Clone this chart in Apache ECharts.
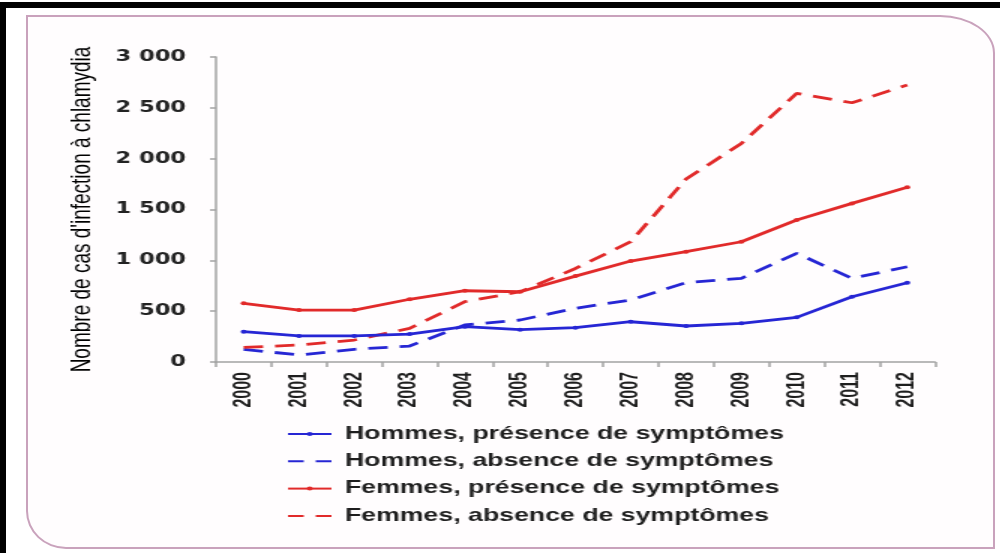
<!DOCTYPE html>
<html>
<head>
<meta charset="utf-8">
<script src="https://cdn.jsdelivr.net/npm/echarts@6/dist/echarts.min.js"></script>
<style>
  html, body { margin: 0; padding: 0; background: #fff; }
  #page { position: relative; width: 1000px; height: 553px; overflow: hidden; background: #fff; }
  /* bords noirs haut / gauche de la capture */
  #page .blk-top { position: absolute; left: 0; top: 2px; width: 1000px; height: 6px; background: #000; }
  #page .blk-left { position: absolute; left: 0; top: 2px; width: 6px; height: 551px; background: #000; }
  /* cadre rose arrondi */
  #frame {
    position: absolute; left: 26px; top: 15px; width: 965px; height: 530px;
    border: 2px solid #c9a2bc; border-radius: 0 55px 0 40px / 0 38px 0 38px;
    background: #fffdfe;
  }
  /* l'image source est étirée horizontalement : on dessine sur 667px puis on étire */
  #chart { position: absolute; left: 0; top: 0; width: 667px; height: 553px;
    transform: scaleX(1.5); transform-origin: 0 0; }
</style>
</head>
<body>
<div id="page">
  <div class="blk-top"></div>
  <div class="blk-left"></div>
  <div id="frame"></div>
  <div id="chart"></div>
</div>
<script>
// années et valeurs
const years = ['2000', '2001', '2002', '2003', '2004', '2005', '2006', '2007', '2008', '2009', '2010', '2011', '2012']
const hommesPresence = [298, 256, 256, 275, 347, 318, 338, 396, 354, 380, 439, 642, 780]
const hommesAbsence = [125, 69, 125, 157, 364, 413, 528, 610, 780, 823, 1069, 823, 937]
const femmesPresence = [577, 511, 511, 617, 701, 691, 845, 993, 1085, 1183, 1396, 1560, 1718]
const femmesAbsence = [144, 167, 216, 331, 593, 691, 920, 1183, 1800, 2150, 2642, 2550, 2724]
const yTicks = { min: 0, max: 3000, interval: 500 }

const BLUE = '#2626d4'
const RED = '#e12a2a'
const DASH = [13, 8]
const FONT = 'Liberation Sans, Arial, sans-serif'

function makeSeries(name, data, color, dashed) {
  return {
    name,
    type: 'line',
    data,
    symbol: 'circle',
    symbolSize: 4,
    showSymbol: !dashed,
    itemStyle: { color },
    lineStyle: { color, width: 2.8, type: dashed ? DASH : 'solid' },
    emphasis: { disabled: true },
    z: dashed ? 3 : 4
  }
}

const legendNames = ['Hommes, présence de symptômes', 'Hommes, absence de symptômes',
  'Femmes, présence de symptômes', 'Femmes, absence de symptômes']

const chart = echarts.init(document.getElementById('chart'), null, { renderer: 'canvas' })

chart.setOption({
  animation: false,
  backgroundColor: 'transparent',
  grid: { left: 144, right: 43.7, top: 57, bottom: 191, containLabel: false },
  legend: {
    orient: 'vertical',
    left: 191,
    top: 425,
    padding: 0,
    itemWidth: 29,
    itemHeight: 5,
    itemGap: 9.3,
    // point seulement pour les courbes pleines, "– –" pour les pointillés
    data: legendNames.map((name, i) => i % 2 === 0
      ? name
      : { name, itemStyle: { opacity: 0 }, lineStyle: { type: [10.5, 8] } }),
    textStyle: {
      color: '#1e1e1e', fontSize: 17.8, lineHeight: 18, fontWeight: 'bold',
      fontFamily: FONT, padding: [0, 0, 0, 4]
    }
  },
  xAxis: {
    type: 'category',
    data: years,
    boundaryGap: true,
    axisLine: { lineStyle: { color: '#a3a3a3', width: 1.5 } },
    axisTick: { show: true, length: 5, lineStyle: { color: '#a3a3a3', width: 1.5 } },
    axisLabel: {
      rotate: 90, margin: 10, color: '#1e1e1e', fontSize: 16, fontWeight: 'bold', fontFamily: FONT
    },
    splitLine: { show: false }
  },
  yAxis: {
    type: 'value',
    min: yTicks.min,
    max: yTicks.max,
    interval: yTicks.interval,
    name: "Nombre de cas d'infection à chlamydia",
    nameLocation: 'middle',
    nameRotate: 90,
    nameGap: 80,
    nameTextStyle: { color: '#000', fontSize: 19, fontFamily: FONT },
    axisLine: { show: true, lineStyle: { color: '#a3a3a3', width: 1.5 } },
    axisTick: { show: true, length: 4, lineStyle: { color: '#a3a3a3', width: 1.5 } },
    axisLabel: {
      margin: 20, color: '#222', fontSize: 15, fontWeight: 'bold',
      fontFamily: 'DejaVu Sans, sans-serif',
      formatter: v => String(v).replace(/\B(?=(\d{3})+(?!\d))/g, ' ')
    },
    splitLine: { show: false }
  },
  series: [
    makeSeries(legendNames[0], hommesPresence, BLUE, false),
    makeSeries(legendNames[1], hommesAbsence, BLUE, true),
    makeSeries(legendNames[2], femmesPresence, RED, false),
    makeSeries(legendNames[3], femmesAbsence, RED, true)
  ]
})
</script>
</body>
</html>
